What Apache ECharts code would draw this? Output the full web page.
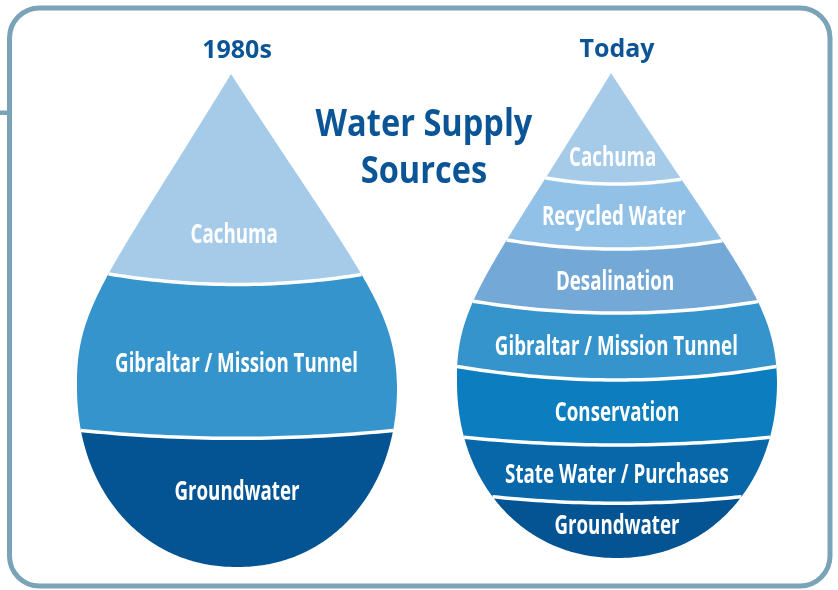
<!DOCTYPE html>
<html>
<head>
<meta charset="utf-8">
<script src="https://cdn.jsdelivr.net/npm/echarts@6/dist/echarts.min.js"></script>
<style>
html, body { margin: 0; padding: 0; background: #fff; }
#chart { width: 838px; height: 590px; }
</style>
</head>
<body>
<div id="chart"></div>
<script>
// the two drops
var drops = ['1980s', 'Today'];

// 1980s supply, top of the drop to the bottom (share of drop height, %)
var sources1980s = ['Cachuma', 'Gibraltar / Mission Tunnel', 'Groundwater'];
var shares1980s = [42.7, 31.2, 26.1];

// today's supply
var sourcesToday = ['Cachuma', 'Recycled Water', 'Desalination', 'Gibraltar / Mission Tunnel',
    'Conservation', 'State Water / Purchases', 'Groundwater'];
var sharesToday = [22.9, 13.4, 13.2, 13.8, 13.4, 12.0, 11.3];

var colors = {
    'Cachuma': '#a5cbe9',
    'Recycled Water': '#91c1e6',
    'Desalination': '#74a8d7',
    'Gibraltar / Mission Tunnel': '#3594cb',
    'Conservation': '#0c7dbe',
    'State Water / Purchases': '#0867a9',
    'Groundwater': '#045493'
};
var DARK = '#0b5597';
var BORDER = '#7ba3b8';

// drop outline settings
var SHAPE = {
    widest: 0.635,     // where the drop is widest, fraction of its height
    apexShift: -6,     // apex sits a little left of the centre
    sideSlope: 0.63,
    lowerPower: 2.1,
    sagUpper: 0.085,   // how much the separators bow down
    sagLower: 0.05,
    sepWidth: 3.5
};
var LABEL_FONT = 'Open Sans';
var LABEL_SIZE = 26;
var LABEL_SCALE = 0.72;

function stack(names, shares) {
    var acc = 0;
    return names.map(function (n, i) {
        var d = { name: n, value: [0, acc, acc + shares[i]] };
        acc += shares[i];
        return d;
    });
}

function dropGeometry(cs) {
    var cx = cs.x + cs.width / 2, W = cs.width / 2;
    var y0 = cs.y, yw = cs.y + cs.height * SHAPE.widest, yb = cs.y + cs.height;
    var hUp = yw - y0, hLow = yb - yw;
    var side = [];
    var L = 0.64 * hUp;
    var p1 = [SHAPE.sideSlope * L, y0 + L], p2 = [W, yw - 0.256 * hUp];
    var k;
    for (k = 0; k <= 120; k++) {
        var t = k / 120;
        var a = (1 - t) * (1 - t) * (1 - t), b = 3 * (1 - t) * (1 - t) * t, c = 3 * (1 - t) * t * t, d = t * t * t;
        side.push({ hw: b * p1[0] + c * p2[0] + d * W, y: a * y0 + b * p1[1] + c * p2[1] + d * yw });
    }
    for (k = 1; k <= 120; k++) {
        var th = k / 120 * Math.PI / 2;
        side.push({
            hw: W * Math.pow(Math.max(0, Math.cos(th)), 2 / SHAPE.lowerPower),
            y: yw + hLow * Math.pow(Math.sin(th), 2 / SHAPE.lowerPower)
        });
    }
    function xc(y) {
        var u = Math.min(1, Math.max(0, (y - y0) / hUp));
        return cx + SHAPE.apexShift * (1 - u);
    }
    return {
        cx: cx, yw: yw, side: side, xc: xc,
        pt: function (j, s) { var p = side[j]; return [xc(p.y) + s * p.hw, p.y]; },
        halfWidthAt: function (y) {
            for (var j = 1; j < side.length; j++) {
                if (side[j].y >= y) {
                    var q = side[j - 1], p = side[j];
                    var f = p.y === q.y ? 0 : (y - q.y) / (p.y - q.y);
                    return q.hw + (p.hw - q.hw) * f;
                }
            }
            return 0;
        }
    };
}

function separator(geo, api, v) {
    var ym = api.coord([0, v])[1];
    var hw = geo.halfWidthAt(ym);
    var sag = (ym < geo.yw ? SHAPE.sagUpper : SHAPE.sagLower) * hw;
    var kk = sag / (hw * hw);
    return function (dx) { return ym - kk * dx * dx; };
}

function cross(geo, sep, s) {
    var prev = null;
    for (var j = 0; j < geo.side.length; j++) {
        var p = geo.pt(j, s);
        var g = p[1] - sep(p[0] - geo.cx);
        if (g >= 0) {
            if (!prev) return { j: j, pt: p };
            var t = prev.g / (prev.g - g);
            return { j: j, pt: [prev.p[0] + (p[0] - prev.p[0]) * t, prev.p[1] + (p[1] - prev.p[1]) * t] };
        }
        prev = { p: p, g: g };
    }
    return { j: geo.side.length, pt: geo.pt(geo.side.length - 1, s) };
}

function curve(geo, sep, xa, xb) {
    var out = [];
    for (var k = 0; k <= 40; k++) {
        var x = xa + (xb - xa) * k / 40;
        out.push([x, sep(x - geo.cx)]);
    }
    return out;
}

function makeRenderer(count) {
    return function (params, api) {
        var geo = dropGeometry(params.coordSys);
        var i = params.dataIndex;
        var start = api.value(1), end = api.value(2);
        var name = params.seriesIndex === 0 ? sources1980s[i] : sourcesToday[i];
        var N = geo.side.length;
        var top = i > 0 ? separator(geo, api, start) : null;
        var bot = i < count - 1 ? separator(geo, api, end) : null;
        var apex = geo.pt(0, 1);
        var rT = top ? cross(geo, top, 1) : { j: 0, pt: apex };
        var lT = top ? cross(geo, top, -1) : { j: 0, pt: apex };
        var rB = bot ? cross(geo, bot, 1) : { j: N };
        var lB = bot ? cross(geo, bot, -1) : { j: N };
        var pts = [rT.pt], j;
        for (j = rT.j; j < rB.j; j++) pts.push(geo.pt(j, 1));
        if (bot) pts = pts.concat(curve(geo, bot, rB.pt[0], lB.pt[0]));
        for (j = lB.j - 1; j >= lT.j; j--) pts.push(geo.pt(j, -1));
        pts.push(lT.pt);
        var topLine = top ? curve(geo, top, lT.pt[0], rT.pt[0]) : null;
        if (topLine) pts = pts.concat(topLine);

        var frac = i === 0 ? 0.77 : (i === count - 1 ? 0.42 : 0.52);
        var ly = api.coord([0, start + (end - start) * frac])[1];
        var children = [{
            type: 'polygon',
            shape: { points: pts },
            style: { fill: colors[name] }
        }];
        if (topLine) {
            children.push({
                type: 'polyline',
                shape: { points: topLine },
                style: { stroke: '#fff', lineWidth: SHAPE.sepWidth, fill: null }
            });
        }
        children.push({
            type: 'text',
            x: geo.xc(ly),
            y: ly,
            scaleX: LABEL_SCALE,
            style: {
                text: name, x: 0, y: 0, fill: '#fff',
                fontSize: LABEL_SIZE, fontWeight: 'bold', fontFamily: LABEL_FONT,
                align: 'center', verticalAlign: 'middle'
            }
        });
        return { type: 'group', children: children };
    };
}

var chart = echarts.init(document.getElementById('chart'));

var grids = [
    { left: 77, top: 74, width: 320, height: 493 },
    { left: 457, top: 73, width: 320, height: 485 }
];

var option = {
    animation: false,
    grid: grids,
    xAxis: drops.map(function (d, i) {
        return {
            type: 'category', gridIndex: i, data: [d], position: 'top',
            axisLine: { show: false }, axisTick: { show: false }, splitLine: { show: false },
            axisLabel: {
                margin: 11, fontSize: 25, fontWeight: 'bold', fontFamily: 'Open Sans', color: DARK
            }
        };
    }),
    yAxis: drops.map(function (d, i) {
        return { type: 'value', gridIndex: i, min: 0, max: 100, inverse: true, show: false };
    }),
    graphic: [
        {
            type: 'rect', z: -10,
            shape: { x: 9.5, y: 8, width: 820.5, height: 578, r: 30 },
            style: { fill: null, stroke: BORDER, lineWidth: 5 }
        },
        {
            type: 'rect', z: -10,
            shape: { x: 0, y: 110.5, width: 10, height: 4.5 },
            style: { fill: BORDER }
        },
        {
            type: 'text', x: 424, y: 125, scaleX: 0.88,
            style: {
                text: 'Water Supply', x: 0, y: 0, fill: DARK, fontSize: 37, fontWeight: 'bold',
                fontFamily: 'Open Sans', align: 'center', verticalAlign: 'middle'
            }
        },
        {
            type: 'text', x: 424, y: 172, scaleX: 0.88,
            style: {
                text: 'Sources', x: 0, y: 0, fill: DARK, fontSize: 37, fontWeight: 'bold',
                fontFamily: 'Open Sans', align: 'center', verticalAlign: 'middle'
            }
        }
    ],
    series: [
        {
            type: 'custom', name: drops[0], xAxisIndex: 0, yAxisIndex: 0,
            encode: { x: 0, y: [1, 2] },
            renderItem: makeRenderer(sources1980s.length),
            data: stack(sources1980s, shares1980s)
        },
        {
            type: 'custom', name: drops[1], xAxisIndex: 1, yAxisIndex: 1,
            encode: { x: 0, y: [1, 2] },
            renderItem: makeRenderer(sourcesToday.length),
            data: stack(sourcesToday, sharesToday)
        }
    ]
};

chart.setOption(option);
</script>
</body>
</html>
